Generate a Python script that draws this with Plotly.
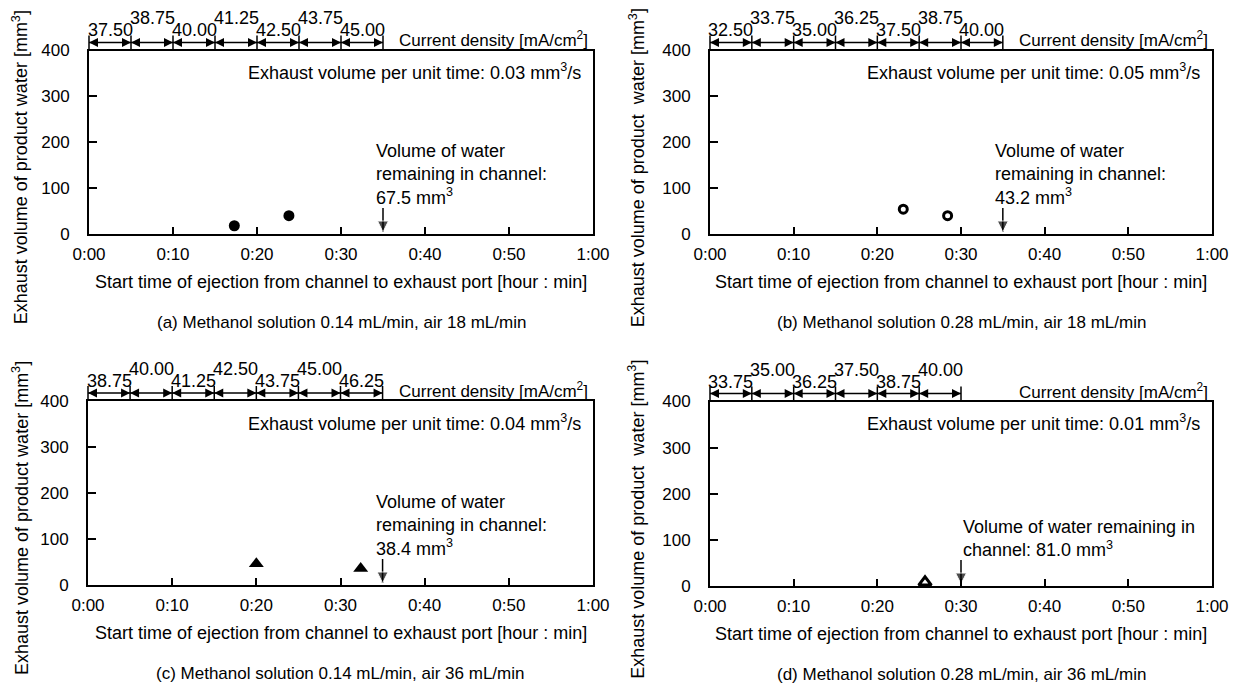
import plotly.graph_objects as go

# the page body adds an 8 px margin, so the figure is 16 px smaller than the window
W, H = 1224, 675
OFF = 8
FONT = "Liberation Sans, Arial, sans-serif"

# ---------------- data ----------------
time_a = [17.3, 23.8]
vol_a = [18, 40]
time_b = [23.1, 28.4]
vol_b = [54, 40]
time_c = [20.0, 32.4]
vol_c = [46, 36]
time_d = [25.7]
vol_d = [8]

cd_a = ["37.50", "38.75", "40.00", "41.25", "42.50", "43.75", "45.00"]
cd_b = ["32.50", "33.75", "35.00", "36.25", "37.50", "38.75", "40.00"]
cd_c = ["38.75", "40.00", "41.25", "42.50", "43.75", "45.00", "46.25"]
cd_d = ["33.75", "35.00", "36.25", "37.50", "38.75", "40.00"]
cd_step_min = 5

rate = ["0.03", "0.05", "0.04", "0.01"]
remain_time = [35, 35, 35, 30]
remain_text = [
    "Volume of water<br>remaining in channel:<br>67.5 mm<sup>3</sup>",
    "Volume of water<br>remaining in channel:<br>43.2 mm<sup>3</sup>",
    "Volume of water<br>remaining in channel:<br>38.4 mm<sup>3</sup>",
    "Volume of water remaining in<br>channel: 81.0 mm<sup>3</sup>",
]
captions = [
    "(a) Methanol solution 0.14 mL/min, air 18 mL/min",
    "(b) Methanol solution 0.28 mL/min, air 18 mL/min",
    "(c) Methanol solution 0.14 mL/min, air 36 mL/min",
    "(d) Methanol solution 0.28 mL/min, air 36 mL/min",
]
y_titles = [
    "Exhaust volume of product water [mm<sup>3</sup>]",
    "Exhaust volume of product  water [mm<sup>3</sup>]",
    "Exhaust volume of product water [mm<sup>3</sup>]",
    "Exhaust volume of product  water [mm<sup>3</sup>]",
]
x_title = "Start time of ejection from channel to exhaust port [hour : min]"
x_tickvals = [0, 10, 20, 30, 40, 50, 60]
x_ticktext = ["0:00", "0:10", "0:20", "0:30", "0:40", "0:50", "1:00"]
y_tickvals = [0, 100, 200, 300, 400]

series = [(time_a, vol_a), (time_b, vol_b), (time_c, vol_c), (time_d, vol_d)]
cds = [cd_a, cd_b, cd_c, cd_d]

# ---------------- layout / style ----------------
def px_x(p):
    return (p - OFF) / W


def px_y(p):
    return 1 - (p - OFF) / H


# pixel boxes of plot areas in window coordinates: left, right, top, bottom
boxes = [(89, 593, 50.5, 234), (710, 1212, 50.5, 234),
         (88, 593, 401, 585), (710, 1212, 401.5, 586)]
markers = [
    dict(symbol="circle", size=11, color="black"),
    dict(symbol="circle-open", size=8, color="black", line=dict(width=3, color="black")),
    dict(symbol="triangle-up", size=13, color="black"),
    dict(symbol="triangle-up-open", size=11, color="black", line=dict(width=3, color="black")),
]
text_xshift = [-9, -10, -9, 0]
ytitle_x = [20, 637, 20, 637]
FS = 18

fig = go.Figure()
layout = dict(
    template="none",
    width=W, height=H, margin=dict(l=0, r=0, t=0, b=0, autoexpand=False),
    paper_bgcolor="white", plot_bgcolor="white", showlegend=False, hovermode=False,
    font=dict(family=FONT, size=FS, color="black"),
)
annotations = []

for k in range(4):
    l, r, t, b = boxes[k]
    sfx = "" if k == 0 else str(k + 1)
    xr, yr = "x" + sfx, "y" + sfx
    yrow = "y" + str(k + 5)
    xdom = [px_x(l), px_x(r)]
    ydom = [px_y(b), px_y(t)]
    hpx = b - t
    layout["xaxis" + sfx] = dict(
        domain=xdom, range=[0, 60], anchor=yr, tickvals=x_tickvals, ticktext=x_ticktext,
        showline=True, mirror=True, linecolor="black", linewidth=2,
        ticks="inside", ticklen=7, tickwidth=1.5, tickcolor="black",
        showgrid=False, zeroline=False, tickfont=dict(size=17, family=FONT),
        ticklabelstandoff=4, fixedrange=True, automargin=False,
    )
    layout["yaxis" + sfx] = dict(
        domain=ydom, range=[0, 400], anchor=xr, tickvals=y_tickvals,
        showline=True, mirror=True, linecolor="black", linewidth=2,
        ticks="inside", ticklen=8, tickwidth=1.5, tickcolor="black",
        showgrid=False, zeroline=False, tickfont=dict(size=17, family=FONT),
        ticklabelstandoff=14, fixedrange=True, automargin=False,
    )
    # thin hidden band above the plot for the current-density row
    layout["yaxis" + str(k + 5)] = dict(
        domain=[px_y(t - 2), px_y(t - 14)], range=[0, 1], anchor=xr,
        visible=False, fixedrange=True, showgrid=False, zeroline=False,
    )
    tx, vy = series[k]
    fig.add_trace(go.Scatter(x=tx, y=vy, mode="markers", marker=markers[k],
                             xaxis=xr, yaxis=yr, hoverinfo="skip", cliponaxis=False))

    # ---- current density row ----
    cd = cds[k]
    n = len(cd)
    bounds = [i * cd_step_min for i in range(n + 1)]
    fig.add_trace(go.Scatter(x=[bounds[0], bounds[-1]], y=[0.5, 0.5], mode="lines",
                             line=dict(color="black", width=1.5),
                             xaxis=xr, yaxis=yrow, hoverinfo="skip"))
    fig.add_trace(go.Scatter(x=bounds, y=[0.5] * len(bounds), mode="markers",
                             marker=dict(symbol="line-ns-open", size=10, color="black",
                                         line=dict(width=1.5, color="black")),
                             xaxis=xr, yaxis=yrow, hoverinfo="skip", cliponaxis=False))
    fig.add_trace(go.Scatter(x=bounds[1:], y=[0.5] * n, mode="markers",
                             marker=dict(symbol="arrow-right", size=9, color="black"),
                             xaxis=xr, yaxis=yrow, hoverinfo="skip", cliponaxis=False))
    fig.add_trace(go.Scatter(x=bounds[:-1], y=[0.5] * n, mode="markers",
                             marker=dict(symbol="arrow-left", size=9, color="black"),
                             xaxis=xr, yaxis=yrow, hoverinfo="skip", cliponaxis=False))
    for i in range(n):
        off = 20 if i % 2 == 0 else 32
        annotations.append(dict(
            x=(bounds[i] + bounds[i + 1]) / 2, y=px_y(t - off),
            xref=xr, yref="paper", text=cd[i], showarrow=False,
            xanchor="center", yanchor="middle", font=dict(size=FS, family=FONT),
        ))
    annotations.append(dict(
        x=0.612, y=px_y(t - 11), xref=xr + " domain", yref="paper",
        text="Current density [mA/cm<sup>2</sup>]", showarrow=False,
        xanchor="left", yanchor="middle", font=dict(size=17, family=FONT),
    ))
    # ---- exhaust rate text ----
    annotations.append(dict(
        x=0.98, y=0.885, xref=xr + " domain", yref=yr + " domain",
        text="Exhaust volume per unit time: " + rate[k] + " mm<sup>3</sup>/s",
        showarrow=False, xanchor="right", yanchor="middle",
        font=dict(size=FS, family=FONT),
    ))
    # ---- remaining water arrow and text ----
    tail_v = 400 * 26 / hpx
    tip_v = 400 * 2 / hpx
    fig.add_trace(go.Scatter(x=[remain_time[k], remain_time[k]], y=[tail_v, tip_v],
                             mode="lines+markers", line=dict(color="black", width=1.5),
                             marker=dict(symbol="arrow-down", size=[0, 11], color="black"),
                             xaxis=xr, yaxis=yr, hoverinfo="skip", cliponaxis=False))
    annotations.append(dict(
        x=remain_time[k], y=0, xref=xr, yref=yr, xshift=text_xshift[k], yshift=24,
        text=remain_text[k], showarrow=False, xanchor="left", yanchor="bottom",
        align="left", font=dict(size=FS, family=FONT),
    ))
    # ---- titles ----
    cx = (l + r) / 2
    annotations.append(dict(
        x=px_x(cx), y=px_y(b + 48), xref="paper", yref="paper", text=x_title,
        showarrow=False, xanchor="center", yanchor="middle", font=dict(size=FS, family=FONT),
    ))
    annotations.append(dict(
        x=px_x(cx), y=px_y(b + 88), xref="paper", yref="paper", text=captions[k],
        showarrow=False, xanchor="center", yanchor="middle", font=dict(size=17, family=FONT),
    ))
    annotations.append(dict(
        x=px_x(ytitle_x[k]), y=px_y((t + b) / 2 + 25), xref="paper", yref="paper",
        text=y_titles[k], textangle=-90, showarrow=False,
        xanchor="center", yanchor="middle", font=dict(size=FS, family=FONT),
    ))

layout["annotations"] = annotations
fig.update_layout(**layout)
fig.write_html("out.html")
